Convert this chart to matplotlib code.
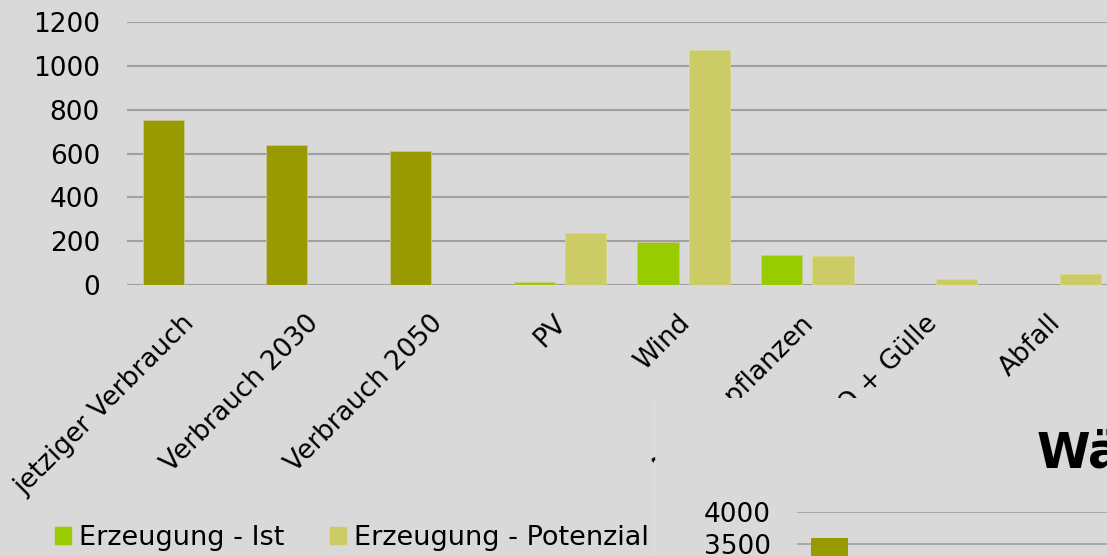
import matplotlib
matplotlib.use('Agg')
import matplotlib.pyplot as plt
import matplotlib.transforms as mtransforms
from matplotlib.patches import Rectangle
from matplotlib.lines import Line2D
import numpy as np

# Strom chart (top)
categories = ['jetziger Verbrauch', 'Verbrauch 2030', 'Verbrauch 2050', 'PV',
              'Wind', 'Energiepflanzen', 'NawaRO + Gülle', 'Abfall']
verbrauch_ist = [755, 640, 610, 14, 196, 137, 0, 0]   # left bar per category
potenzial = [0, 0, 0, 236, 1072, 131, 26, 50]          # right bar per category
is_verbrauch = [True, True, True, False, False, False, False, False]

# Waerme chart (bottom right, only its top edge is visible)
waerme_categories = ['jetziger Verbrauch']
waerme_values = [3600]

BG = '#d9d9d9'
GRID = '#a0a0a0'
OLIVE = '#999900'
GREEN = '#99cc00'
KHAKI = '#cccc66'
FS = 19

fig = plt.figure(figsize=(11.07, 5.56), dpi=100, facecolor=BG)
W, H = 1107., 556.

def px_axes(left, top, right, bottom):
    return [left / W, 1 - bottom / H, (right - left) / W, (bottom - top) / H]

# main axes: x=-0.5 at px 127, category width 123.7 px; y 0..1200 from px 285 to 22
ax = fig.add_axes(px_axes(127, 22, 127 + 8 * 123.7, 285), facecolor=BG)
x = np.arange(len(categories))
bw = 0.333
off = 0.208
cols = [OLIVE if v else GREEN for v in is_verbrauch]
ax.bar(x - off, verbrauch_ist, bw, color=cols, edgecolor='#c8c890', linewidth=0.6, zorder=3)
ax.bar(x + off, potenzial, bw, color=KHAKI, edgecolor='#d6d68a', linewidth=0.6, zorder=3)
ax.set_xlim(-0.5, len(categories) - 0.5)
ax.set_ylim(0, 1200)
ax.set_yticks(np.arange(0, 1201, 200))
ax.yaxis.grid(True, color=GRID, linewidth=1.5)
ax.set_axisbelow(True)
for s in ax.spines.values():
    s.set_visible(False)
ax.tick_params(axis='y', length=0, pad=19.5, labelsize=FS)
ax.tick_params(axis='x', length=0, pad=18, labelsize=FS)
ax.set_xticks(x)
ax.set_xticklabels(categories, rotation=45, ha='right', va='top', rotation_mode='anchor')
shift = mtransforms.ScaledTranslation(-7 / 100., 0, fig.dpi_scale_trans)
for lab in ax.get_xticklabels():
    lab.set_transform(lab.get_transform() + shift)
for lab in ax.get_yticklabels():
    lab.set_clip_on(False)

# legend
h1 = Rectangle((0, 0), 1, 1, color=GREEN)
h2 = Rectangle((0, 0), 1, 1, color=KHAKI)
fig.legend([h1, h2], ['Erzeugung - Ist', 'Erzeugung - Potenzial'],
           loc='center left', bbox_to_anchor=(55 / W, 1 - 538 / H), ncol=2,
           frameon=False, fontsize=19.5, handlelength=0.58, handleheight=0.58,
           handletextpad=0.3, columnspacing=1.7, borderpad=0, borderaxespad=0)

# second chart's area covering the lower right
cover = Rectangle((654 / W, 0), 1, 1 - 398 / H, transform=fig.transFigure,
                  facecolor=BG, edgecolor='none', zorder=1)
fig.add_artist(cover)
fig.add_artist(Line2D([654 / W, 654 / W], [0, 1 - 400 / H], transform=fig.transFigure,
                      color='#e0e0e0', linewidth=0.8, zorder=1.5))
fig.text(651 / W, 1 - 458 / H, '◂', fontsize=6, ha='left', va='center', zorder=5)
fig.text(1037 / W, 1 - 468 / H, 'Wärme', fontsize=35, fontweight='bold',
         ha='left', va='baseline', zorder=5)

ax2 = fig.add_axes(px_axes(797, 511.7, 797 + 3 * 111.6, 774), facecolor=BG, zorder=2)
ax2.bar(np.arange(len(waerme_values)) - off, waerme_values, bw, color=OLIVE, zorder=3)
ax2.set_xlim(-0.5, 2.5)
ax2.set_ylim(0, 4000)
ax2.set_yticks(np.arange(0, 4001, 500))
ax2.yaxis.grid(True, color=GRID, linewidth=1.2)
ax2.set_axisbelow(True)
ax2.set_xticks([])
for s in ax2.spines.values():
    s.set_visible(False)
ax2.tick_params(axis='y', length=0, pad=18.7, labelsize=FS)

fig.savefig('out.png', dpi=100, facecolor=BG)
